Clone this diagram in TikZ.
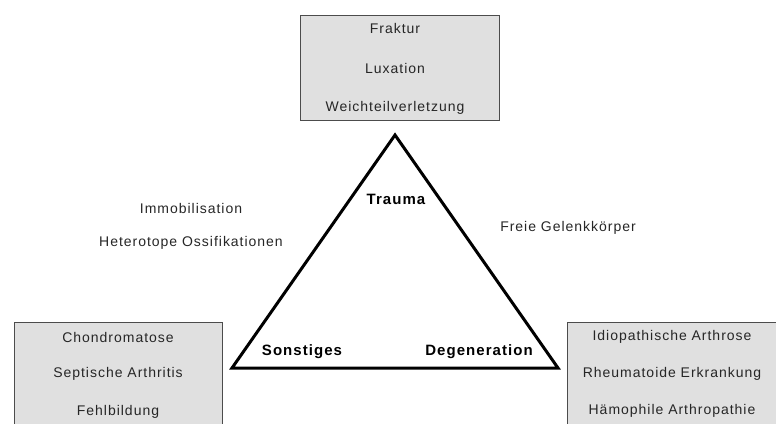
\documentclass[tikz,border=0pt]{standalone}
\usepackage{fontspec}
\setmainfont[LetterSpace=7]{Liberation Sans}
\begin{document}
\begin{tikzpicture}[x=1pt,y=-1pt,
  catbox/.style={fill=black!12, draw=black!70, line width=0.8pt},
  item/.style={font=\fontsize{14}{16}\selectfont, text=black!85, inner sep=0pt},
  corner/.style={font=\bfseries\fontsize{15}{17}\selectfont, inner sep=0pt},
  tri/.style={line width=3pt, line join=miter}]
\useasboundingbox (0,0) rectangle (776,423);
% boxes
\path[catbox] (300,15) rectangle (499,120);
\path[catbox] (14,322) rectangle (222,430);
\path[catbox] (567,322) rectangle (790,430);
% top box texts
\node[item] (t1) at (395,28) {Fraktur};
\node[item] (t2) at (395,68) {Luxation};
\node[item] (t3) at (395,108) {Weichteilverletzung};
% left box
\node[item] (l1) at (118,337) {Chondromatose};
\node[item] (l2) at (118,374) {Septische Arthritis};
\node[item] (l3) at (118,412) {Fehlbildung};
% right box
\node[item] (r1) at (672,337) {Idiopathische Arthrose};
\node[item] (r2) at (672,374) {Rheumatoide Erkrankung};
\node[item] (r3) at (672,411) {Hämophile Arthropathie};
% triangle
\coordinate (A) at (395,135);
\coordinate (B) at (232,368);
\coordinate (C) at (558,368);
\draw[tri] (A) -- (B) -- (C) -- cycle;
\node[corner] (trauma) at (396,199) {Trauma};
\node[corner] (sonst) at (302,352) {Sonstiges};
\node[corner] (degen) at (479,352) {Degeneration};
% side labels
\node[item] (imm) at (191,208) {Immobilisation};
\node[item] (het) at (191,243) {Heterotope Ossifikationen};
\node[item] (frei) at (568,228) {Freie Gelenkkörper};
\end{tikzpicture}
\end{document}
